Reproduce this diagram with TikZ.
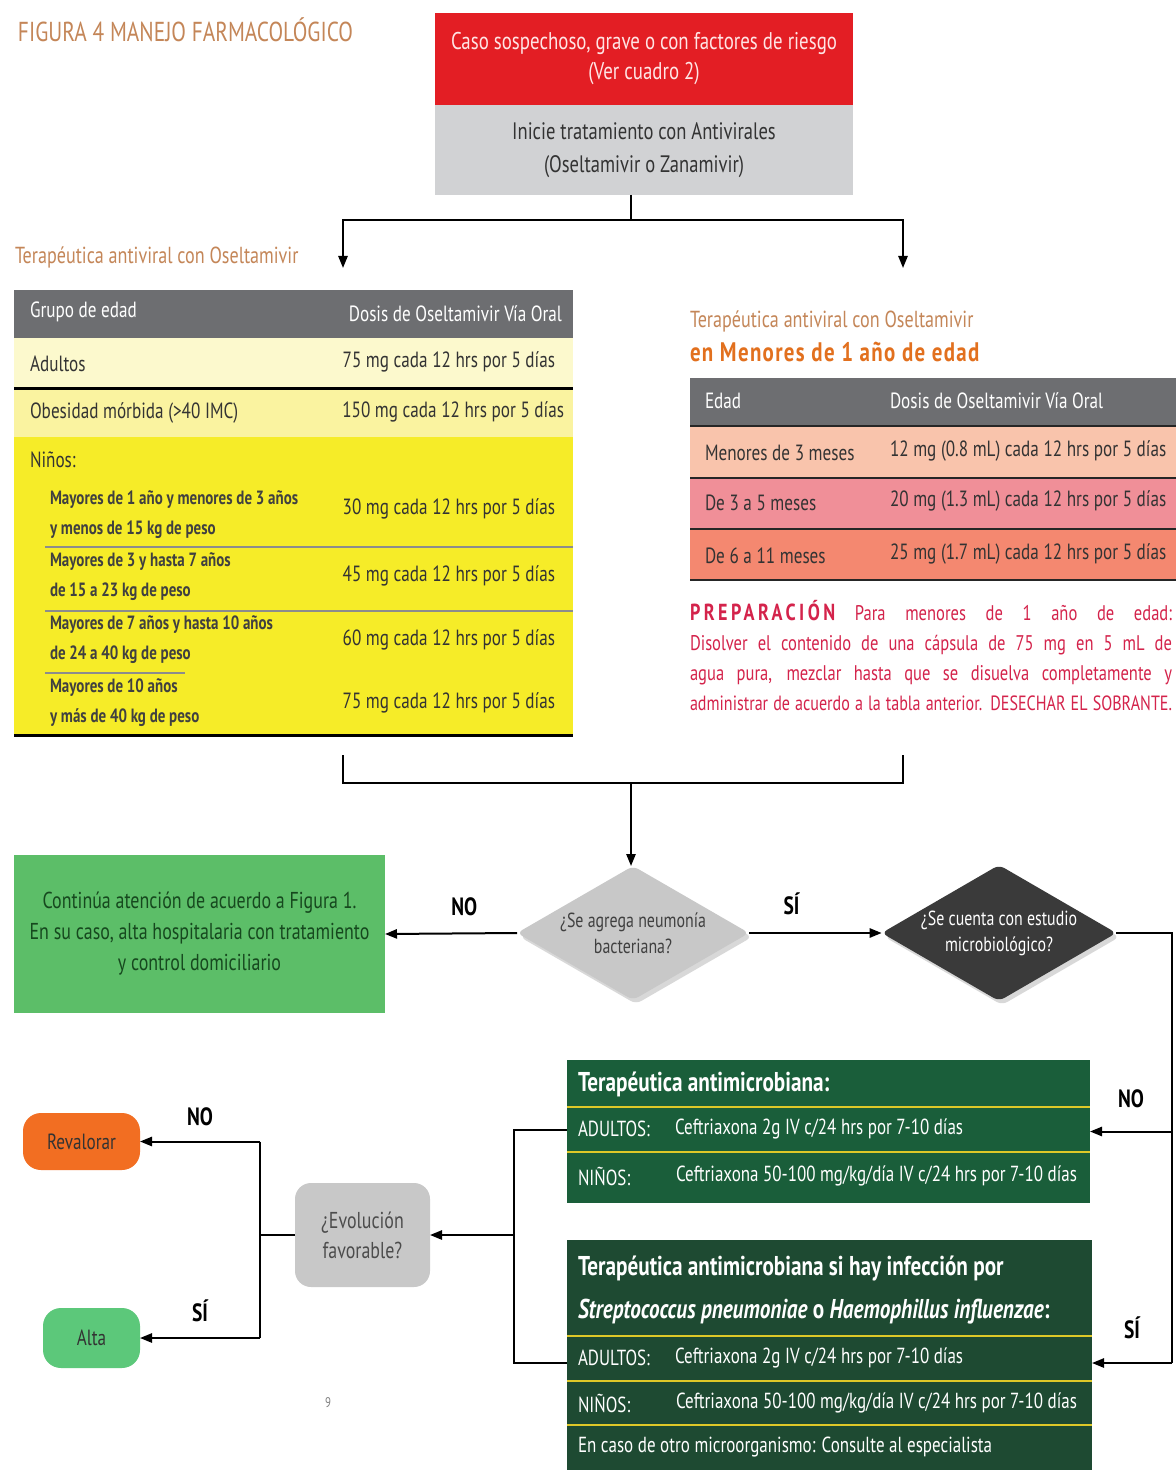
\documentclass[tikz,border=0pt]{standalone}
\usepackage{fontspec}
\setmainfont[FakeStretch=0.78]{PT Sans}
\usepackage{xcolor}
\usepackage{tikz}
\usetikzlibrary{arrows.meta,positioning,calc,shapes.geometric,shadows}
\definecolor{casored}{RGB}{227,30,36}
\definecolor{boxgray}{RGB}{209,210,212}
\definecolor{headgray}{RGB}{109,110,113}
\definecolor{headtan}{RGB}{196,134,88}
\definecolor{orangebold}{RGB}{226,112,30}
\definecolor{paley}{RGB}{252,249,205}
\definecolor{midy}{RGB}{250,243,160}
\definecolor{brighty}{RGB}{246,236,40}
\definecolor{peach}{RGB}{249,196,172}
\definecolor{rose}{RGB}{240,143,152}
\definecolor{salmon}{RGB}{244,136,112}
\definecolor{crimson}{RGB}{212,35,75}
\definecolor{leaf}{RGB}{92,190,104}
\definecolor{leaftext}{RGB}{22,72,30}
\definecolor{pine}{RGB}{26,94,58}
\definecolor{pinedark}{RGB}{30,74,50}
\definecolor{rulegold}{RGB}{222,200,40}
\definecolor{pumpkin}{RGB}{242,110,34}
\definecolor{mint}{RGB}{92,200,122}
\definecolor{qlight}{RGB}{200,200,200}
\definecolor{qdark}{RGB}{58,58,58}

\begin{document}
\begin{tikzpicture}[x=0.5pt, y=-0.5pt, >={Triangle[length=6pt,width=4.6pt]}, line width=1pt,
  every node/.style={inner sep=0pt, outer sep=0pt},
  cell/.style={anchor=west, font=\fontsize{11}{12}\selectfont, text=black!80},
  dose/.style={anchor=east, font=\fontsize{11}{12}\selectfont, text=black!80},
  sub/.style={anchor=west, align=left, font=\bfseries\fontsize{9.6}{15}\selectfont, text=black!75},
  rx/.style={anchor=west, font=\fontsize{10.9}{12}\selectfont, text=white},
  rxhead/.style={anchor=west, font=\bfseries\fontsize{13.6}{14}\selectfont, text=white},
  yesno/.style={font=\bfseries\fontsize{12.5}{14}\selectfont},
  ask/.style={diamond, rounded corners=3pt, aspect=1.75, align=center, font=\fontsize{10.2}{13}\selectfont,
    drop shadow={opacity=0.3, shadow xshift=1.5pt, shadow yshift=-2pt}},
  pill/.style={rounded corners=9pt, font=\fontsize{11}{13}\selectfont, text=black!80}]
\useasboundingbox[fill=white] (0,0) rectangle (1176,1470);

% title and first step
\node[anchor=west, text=headtan, font=\fontsize{13.7}{15}\selectfont] (title) at (18,30) {FIGURA 4 MANEJO FARMACOLÓGICO};
\node[fill=casored, minimum width=209pt, minimum height=46pt, align=center, text=white!90!red, font=\fontsize{12.1}{15}\selectfont] (caso) at (644,59) {Caso sospechoso, grave o con factores de riesgo\\(Ver cuadro 2)};
\node[fill=boxgray, minimum width=209pt, minimum height=45pt, align=center, text=black!80, font=\fontsize{11.9}{16.5}\selectfont] (inicie) at (644,150) {Inicie tratamiento con Antivirales\\(Oseltamivir o Zanamivir)};
\coordinate (split) at (631,220);
\coordinate (adultarr) at (343,268);
\coordinate (infantarr) at (903,268);
\draw (inicie.south -| split) -- (split);
\draw[->] (split) -| (adultarr);
\draw[->] (split) -| (infantarr);

% oseltamivir table
\node[anchor=west, text=headtan, font=\fontsize{11.6}{13}\selectfont] (adulthead) at (15,257) {Terapéutica antiviral con Oseltamivir};
\fill[headgray] (14,290) rectangle (573,338);
\fill[paley] (14,338) rectangle (573,389);
\fill[midy] (14,389) rectangle (573,437);
\fill[brighty] (14,437) rectangle (573,735);
\draw[line width=1.5pt] (14,389) -- (573,389);
\draw[line width=1.5pt] (14,735) -- (573,735);
\foreach \y in {547,611} \draw[line width=0.6pt, black!45] (45,\y) -- (573,\y);
\draw[line width=0.6pt, black!45] (45,673) -- (185,673);
\node[cell, text=white] (grupo) at (30,312) {Grupo de edad};
\node[dose, text=white] (dosis) at (562,314) {Dosis de Oseltamivir Vía Oral};
\node[cell] (adultos) at (30,364) {Adultos};
\node[dose] (adultosd) at (555,362) {75 mg cada 12 hrs por 5 días};
\node[cell] (obesidad) at (30,413) {Obesidad mórbida (>40 IMC)};
\node[dose] (obesidadd) at (564,412) {150 mg cada 12 hrs por 5 días};
\node[cell] (ninos) at (30,460) {Niños:};
\node[sub] (ninoa) at (50,515) {Mayores de 1 año y menores de 3 años\\y menos de 15 kg de peso};
\node[dose] (ninoad) at (555,509) {30 mg cada 12 hrs por 5 días};
\node[sub] (ninob) at (50,577) {Mayores de 3 y hasta 7 años\\de 15 a 23 kg de peso};
\node[dose] (ninobd) at (555,576) {45 mg cada 12 hrs por 5 días};
\node[sub] (ninoc) at (50,640) {Mayores de 7 años y hasta 10 años\\de 24 a 40 kg de peso};
\node[dose] (ninocd) at (555,640) {60 mg cada 12 hrs por 5 días};
\node[sub] (ninod) at (50,703) {Mayores de 10 años\\y más de 40 kg de peso};
\node[dose] (ninodd) at (555,703) {75 mg cada 12 hrs por 5 días};

% under one year table
\node[anchor=west, text=headtan, font=\fontsize{11.6}{13}\selectfont] (infanthead) at (690,321) {Terapéutica antiviral con Oseltamivir};
\node[anchor=west, text=orangebold, font=\bfseries\fontsize{13.4}{14}\selectfont\addfontfeature{LetterSpace=5}] (infantsub) at (690,352) {en Menores de 1 año de edad};
\fill[headgray] (690,378) rectangle (1176,426);
\fill[peach] (690,426) rectangle (1176,478);
\fill[rose] (690,478) rectangle (1176,529);
\fill[salmon] (690,529) rectangle (1176,580);
\foreach \y in {426,478,529,580} \draw[line width=1.2pt, black!85] (690,\y) -- (1176,\y);
\node[cell, text=white] (edad) at (705,401) {Edad};
\node[cell, text=white] (edadd) at (890,401) {Dosis de Oseltamivir Vía Oral};
\node[cell] (mtres) at (705,453) {Menores de 3 meses};
\node[cell] (mtresd) at (890,451) {12 mg (0.8 mL) cada 12 hrs por 5 días};
\node[cell] (mcinco) at (705,503) {De 3 a 5 meses};
\node[cell] (mcincod) at (890,501) {20 mg (1.3 mL) cada 12 hrs por 5 días};
\node[cell] (monce) at (705,556) {De 6 a 11 meses};
\node[cell] (monced) at (890,554) {25 mg (1.7 mL) cada 12 hrs por 5 días};
\node[anchor=north west, text width=241pt, align=justify, text=crimson, font=\fontsize{10.6}{15}\selectfont] (prep) at (690,600)
  {\parfillskip=0pt {\bfseries\fontsize{11.6}{15}\selectfont\addfontfeature{LetterSpace=15}PREPARACIÓN} Para menores de 1 año de edad:\linebreak Disolver el contenido de una cápsula de 75 mg en 5 mL de\linebreak agua pura, mezclar hasta que se disuelva completamente y\linebreak {\fontsize{10.3}{15}\selectfont administrar de acuerdo a la tabla anterior. DESECHAR EL SOBRANTE.}\par};

% merge into decision
\coordinate (joinl) at (343,755);
\coordinate (joinr) at (903,755);
\coordinate (merge) at (631,783);
\draw (joinl) |- (joinr |- merge) -- (joinr);
\node[ask, fill=qlight, minimum width=116pt, minimum height=67pt, text=black!75] (pneu) at (633,933) {¿Se agrega neumonía\\bacteriana?};
\node[ask, fill=qdark, minimum width=115pt, minimum height=68pt, text=white] (micro) at (999,933) {¿Se cuenta con estudio\\microbiológico?};
\draw[->] (merge) -- (pneu.north -| merge);
\node[fill=leaf, minimum width=185.5pt, minimum height=79pt, align=center, text=leaftext, font=\fontsize{11.5}{15.5}\selectfont] (cont) at (199.5,934) {Continúa atención de acuerdo a Figura 1.\\En su caso, alta hospitalaria con tratamiento\\y control domiciliario};
\draw[->] (pneu.west) -- (cont.east) node[yesno, pos=0.4, above=9pt] {NO};
\draw[->] (pneu.east) -- (micro.west) node[yesno, pos=0.32, above=9pt] {SÍ};

% antimicrobial boxes
\node[fill=pine, minimum width=261.5pt, minimum height=71.5pt] (abone) at (828.5,1131.5) {};
\draw[rulegold, line width=1pt] (567,1107) -- (1090,1107) (567,1152) -- (1090,1152);
\node[rxhead] (abonet) at (578,1084) {Terapéutica antimicrobiana:};
\node[rx] (abonea) at (578,1129) {ADULTOS:};
\node[rx] (abonead) at (675,1129) {Ceftriaxona 2g IV c/24 hrs por 7-10 días};
\node[rx] (abonen) at (578,1176) {NIÑOS:};
\node[rx] (abonend) at (676,1176) {Ceftriaxona 50-100 mg/kg/día IV c/24 hrs por 7-10 días};
\node[fill=pinedark, minimum width=262.5pt, minimum height=115pt] (abtwo) at (829.5,1355) {};
\draw[rulegold, line width=1pt] (567,1336) -- (1092,1336) (567,1381) -- (1092,1381) (567,1425) -- (1092,1425);
\node[rxhead] (abtwot) at (578,1268) {Terapéutica antimicrobiana si hay infección por};
\node[rxhead] (abtwos) at (578,1312) {\textit{Streptococcus pneumoniae} o \textit{Haemophillus influenzae}:};
\node[rx] (abtwoa) at (578,1358) {ADULTOS:};
\node[rx] (abtwoad) at (675,1358) {Ceftriaxona 2g IV c/24 hrs por 7-10 días};
\node[rx] (abtwon) at (578,1403) {NIÑOS:};
\node[rx] (abtwond) at (676,1403) {Ceftriaxona 50-100 mg/kg/día IV c/24 hrs por 7-10 días};
\node[rx] (otro) at (578,1447) {En caso de otro microorganismo: Consulte al especialista};

\coordinate (rtop) at (1172,933);
\coordinate (rbot) at (1172,1363);
\draw (micro.east) -- (rtop) -- (rbot);
\draw[->] (rtop |- abone.east) -- (abone.east) node[yesno, midway, above=12pt] {NO};
\draw[->] (rbot) -- (rbot -| abtwo.east) node[yesno, midway, above=12pt] {SÍ};

% evolution
\node[fill=qlight, rounded corners=8pt, minimum width=67.5pt, minimum height=52pt, align=center, text=black!70, font=\fontsize{11.5}{15}\selectfont] (evo) at (362.5,1235) {¿Evolución\\favorable?};
\coordinate (ltop) at (514,1130);
\coordinate (lbot) at (514,1363);
\draw (abone.west |- ltop) -- (ltop) -- (lbot) -- (lbot -| abtwo.west);
\draw[->] (ltop |- evo.east) -- (evo.east);
\node[pill, fill=pumpkin, minimum width=58.5pt, minimum height=28.5pt] (reval) at (81.5,1141.5) {Revalorar};
\node[pill, fill=mint, minimum width=48.5pt, minimum height=30pt] (alta) at (91.5,1338) {Alta};
\coordinate (etop) at (260,1141.5);
\coordinate (ebot) at (260,1338);
\draw (evo.west) -- (evo.west -| etop);
\draw (etop) -- (ebot);
\draw[->] (etop) -- (reval.east) node[yesno, midway, above=8pt] {NO};
\draw[->] (ebot) -- (alta.east) node[yesno, midway, above=8pt] {SÍ};
\node[text=black!50, font=\fontsize{7}{8}\selectfont] (pagenum) at (328,1403) {9};
\end{tikzpicture}
\end{document}
